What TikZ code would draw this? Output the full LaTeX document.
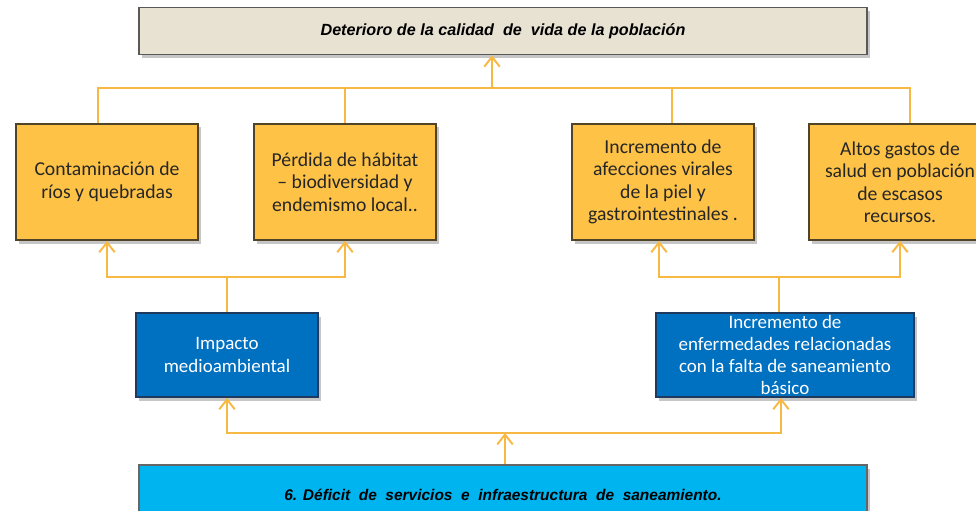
\documentclass[tikz,border=0pt]{standalone}
\usepackage{fontspec}
\setmainfont{Carlito}
\newfontfamily\arialfont{Liberation Sans}
\usepackage{xcolor}
\usepackage{tikz}
\usetikzlibrary{arrows.meta,shadows}
\definecolor{titulo_fill}{RGB}{232, 226, 211}
\definecolor{efecto_fill}{RGB}{253, 194, 70}
\definecolor{efecto_line}{RGB}{80, 68, 40}
\definecolor{medio_fill}{RGB}{0, 112, 192}
\definecolor{medio_line}{RGB}{30, 58, 95}
\definecolor{causa_fill}{RGB}{0, 180, 240}
\definecolor{enlace}{RGB}{247, 185, 68}

\begin{document}
\begin{tikzpicture}[x=0.025cm, y=-0.025cm,
    sombra/.style={drop shadow={opacity=0.45, shadow xshift=2pt, shadow yshift=-2.5pt}},
    efecto/.style={draw=efecto_line, line width=1.2pt, fill=efecto_fill, sombra,
                   minimum width=4.55cm, minimum height=2.9cm,
                   align=center, font=\fontsize{14}{16}\selectfont, text=black!85},
    medio/.style={draw=medio_line, line width=1.2pt, fill=medio_fill, sombra,
                  minimum height=2.1cm, inner sep=0pt, align=center, text=white,
                  font=\fontsize{13.5}{15.8}\selectfont},
    link/.style={draw=enlace, line width=1.4pt},
    arr/.style={link, -{Straight Barb[length=7pt,width=11pt]}}]
  \useasboundingbox (0,0) rectangle (976,511);

  % problema central y efecto final
  \node[draw=black!65, line width=1.2pt, fill=titulo_fill, sombra,
        minimum width=18.2cm, minimum height=1.17cm,
        font=\arialfont\bfseries\itshape\fontsize{11.5}{13}\selectfont]
        (fin) at (503,31) {Deterioro de la calidad~ de~ vida de la población};
  \node[draw=black!60, line width=1.2pt, fill=causa_fill, sombra,
        minimum width=18.2cm, minimum height=1.5cm,
        font=\arialfont\bfseries\itshape\fontsize{11}{13}\selectfont]
        (causa) at (503,495) {6. Déficit~ de~ servicios~ e~ infraestructura~ de~ saneamiento.};

  % efectos
  \node[efecto] (ef1) at (107,182) {Contaminación de\\ ríos y quebradas};
  \node[efecto] (ef2) at (345,182) {Pérdida de hábitat\\ -- biodiversidad y\\ endemismo local..};
  \node[efecto] (ef3) at (663,182) {Incremento de\\ afecciones virales\\ de la piel y\\ gastrointestinales .};
  \node[efecto] (ef4) at (900,182) {Altos gastos de\\ salud en población\\ de escasos\\ recursos.};

  % efectos intermedios
  \node[medio, minimum width=4.55cm] (me1) at (227,355)
        {Impacto\\ medioambiental};
  \node[medio, minimum width=6.45cm] (me2) at (785,355)
        {Incremento de\\ enfermedades relacionadas\\ con la falta de saneamiento\\ básico};

  % conectores
  \coordinate (jt) at (492,88);
  \coordinate (jl) at (227,277);
  \coordinate (jr) at (779,277);
  \coordinate (jb) at (505,433);

  \draw[arr] (jt) -- (fin.south -| jt);
  \draw[link] ([xshift=-0.23cm]ef1.north) |- (jt);
  \draw[link] (ef2.north) |- (jt);
  \draw[link] ([xshift=0.23cm]ef3.north) |- (jt);
  \draw[link] ([xshift=0.25cm]ef4.north) |- (jt);

  \draw[link] (me2.north -| jr) -- (jr);
  \draw[link] (me1.north) -- (jl);
  \draw[arr] (jl) -| (ef1.south);
  \draw[arr] (jl) -| (ef2.south);
  \draw[arr] (jr) -| ([xshift=-0.1cm]ef3.south);
  \draw[arr] (jr) -| (ef4.south);

  \draw[arr] (causa.north -| jb) -- (jb);
  \draw[arr] (jb) -| (me1.south);
  \draw[arr] (jb) -| ([xshift=-0.1cm]me2.south);
\end{tikzpicture}
\end{document}
